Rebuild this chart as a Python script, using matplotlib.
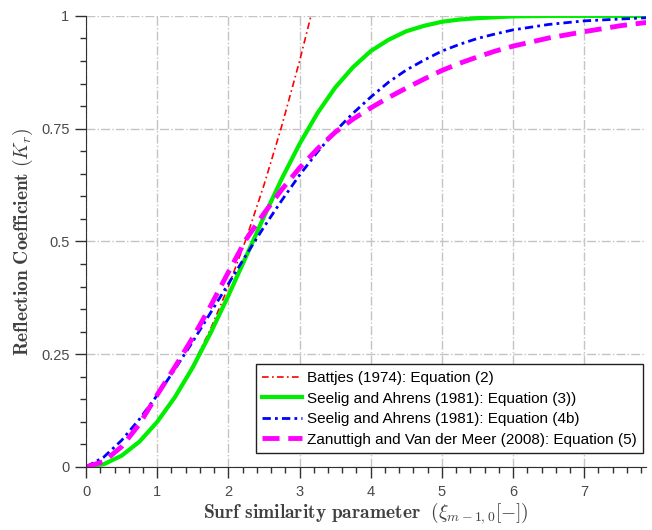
import matplotlib
matplotlib.use('Agg')
import matplotlib.pyplot as plt
from matplotlib.ticker import MultipleLocator
import numpy as np

# === Reflection coefficient vs surf similarity parameter ===
plt.rcParams['mathtext.fontset'] = 'cm'
plt.rcParams['font.family'] = ['Liberation Sans', 'DejaVu Sans']

# --- Battjes (1974).
xi_battjes = [0, 0.25, 0.5, 0.75, 1.0, 1.25, 1.5, 1.75, 2.0, 2.25, 2.5, 2.75, 3.0, 3.16]
kr_battjes = [0, 0.006, 0.025, 0.056, 0.100, 0.156, 0.225, 0.306, 0.400, 0.506, 0.625, 0.756, 0.900, 1.0]

# --- shared abscissa for the other three curves.
xi = [0, 0.25, 0.5, 0.75, 1.0, 1.25, 1.5, 1.75, 2.0, 2.25, 2.5, 2.75, 3.0, 3.25, 3.5,
      3.75, 4.0, 4.25, 4.5, 4.75, 5.0, 5.25, 5.5, 5.75, 6.0, 6.5, 7.0, 7.5, 7.9]
kr_seelig3 = [0, 0.006, 0.025, 0.056, 0.100, 0.155, 0.221, 0.297, 0.380, 0.467, 0.555,
              0.639, 0.716, 0.784, 0.841, 0.886, 0.922, 0.947, 0.966, 0.978, 0.987,
              0.992, 0.995, 0.997, 0.999, 1.0, 1.0, 1.0, 1.0]
kr_seelig4b = [0, 0.022, 0.059, 0.106, 0.159, 0.217, 0.278, 0.342, 0.406, 0.470, 0.532,
               0.591, 0.647, 0.698, 0.744, 0.784, 0.820, 0.853, 0.880, 0.902, 0.922,
               0.937, 0.950, 0.960, 0.969, 0.981, 0.989, 0.993, 0.996]
kr_zanuttigh = [0, 0.012, 0.045, 0.095, 0.160, 0.222, 0.287, 0.357, 0.432, 0.505, 0.562,
                0.615, 0.663, 0.705, 0.742, 0.771, 0.796, 0.819, 0.840, 0.860, 0.879,
                0.895, 0.909, 0.922, 0.933, 0.951, 0.965, 0.978, 0.986]

fig = plt.figure(figsize=(6.52, 5.30), dpi=100)
ax = fig.add_axes([0.132, 0.119, 0.859, 0.851])

ax.plot(xi_battjes, kr_battjes, color='#ff0000', ls=(0, (4, 2, 1, 2)), lw=1.2,
        label='Battjes (1974): Equation (2)')
ax.plot(xi, kr_seelig3, color='#00ee00', ls='-', lw=3,
        label='Seelig and Ahrens (1981): Equation (3))')
ax.plot(xi, kr_seelig4b, color='#0000ff', ls=(0, (3, 1.5, 1, 1.5)), lw=2,
        label='Seelig and Ahrens (1981): Equation (4b)')
ax.plot(xi, kr_zanuttigh, color='#ff00ff', ls=(0, (3.5, 1.8)), lw=3.5,
        label='Zanuttigh and Van der Meer (2008): Equation (5)')

ax.set_xlim(0, 7.87)
ax.set_ylim(0, 1)
ax.set_xticks(range(8))
ax.set_yticks([0, 0.25, 0.5, 0.75, 1])
ax.set_yticklabels(['0', '0.25', '0.5', '0.75', '1'])
ax.xaxis.set_minor_locator(MultipleLocator(0.2))
ax.yaxis.set_minor_locator(MultipleLocator(0.05))
ax.tick_params(which='major', direction='out', length=8, width=1, colors='#303030',
               labelcolor='#4a4a4a', labelsize=10.5, pad=5)
ax.tick_params(axis='y', which='major', pad=4)
ax.tick_params(which='minor', direction='out', length=4.5, width=1, colors='#303030')

ax.spines['top'].set_visible(False)
ax.spines['right'].set_visible(False)
ax.spines['left'].set_color('#303030')
ax.spines['bottom'].set_color('#303030')

ax.grid(True, which='major', color='#c4c4c4', ls='-.', lw=1)
ax.set_axisbelow(True)

ax.set_xlabel(r'$\mathbf{Surf\ similarity\ parameter}\ \ (\xi_{m-1,0}[-])$',
              fontsize=14, color='#404040', labelpad=1)
ax.set_ylabel(r'$\mathbf{Reflection\ Coefficient}\ (K_r)$',
              fontsize=14, color='#404040', labelpad=4)

leg = ax.legend(loc='lower right', bbox_to_anchor=(0.995, 0.03), borderaxespad=0,
                fontsize=11, fancybox=False, framealpha=1, edgecolor='#202020',
                handlelength=2.6, labelspacing=0.42, handletextpad=0.3,
                borderpad=0.45)
leg.get_frame().set_linewidth(1)

plt.savefig('out.png', dpi=100)
